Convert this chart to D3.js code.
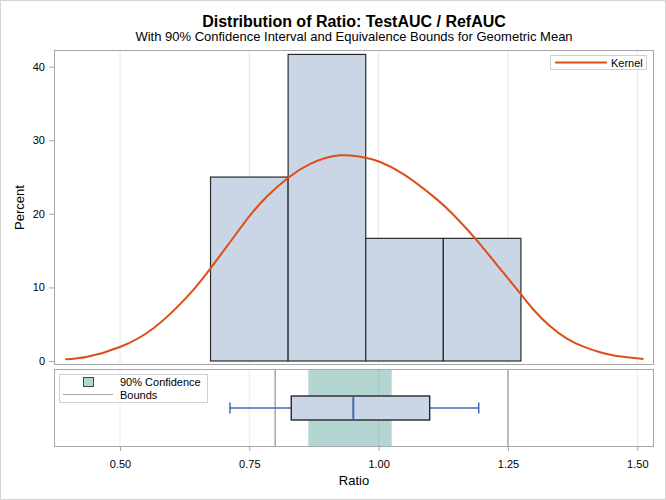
<!DOCTYPE html>
<html>
<head>
<meta charset="utf-8">
<script src="https://cdn.jsdelivr.net/npm/d3@7"></script>
<style>
  html, body { margin: 0; padding: 0; background: #fff; }
  svg { display: block; font-family: "Liberation Sans", Arial, sans-serif; }
</style>
</head>
<body>
<svg id="chart" width="666" height="500"></svg>
<script>
// ---------------- data ----------------
const titleText = "Distribution of Ratio: TestAUC / RefAUC";
const subtitleText = "With 90% Confidence Interval and Equivalence Bounds for Geometric Mean";

const binMid = [0.75, 0.90, 1.05, 1.20];
const binWidth = 0.15;
const binPercent = [25.0, 41.67, 16.67, 16.67];

const kernelX = [0.394, 0.437, 0.501, 0.566, 0.630, 0.675, 0.719, 0.751, 0.784, 0.824, 0.867, 0.925, 0.977, 1.003, 1.048, 1.112, 1.144, 1.186, 1.241, 1.273, 1.299, 1.331, 1.364, 1.396, 1.428, 1.460, 1.512];
const kernelY = [0.23, 0.58, 1.94, 4.53, 8.74, 12.6, 16.75, 19.75, 22.35, 24.85, 26.75, 27.95, 27.6, 27.05, 25.4, 22.0, 19.9, 16.7, 12.0, 9.25, 7.0, 4.75, 3.05, 1.95, 1.18, 0.68, 0.27];

const boxStats = { whiskerLow: 0.7126, q1: 0.831, median: 0.951, q3: 1.0987, whiskerHigh: 1.1934 };
const confInterval = [0.864, 1.0252];
const equivBounds = [0.80, 1.25];

const xTicks = [0.50, 0.75, 1.00, 1.25, 1.50];
const yTicks = [0, 10, 20, 30, 40];

// ---------------- layout ----------------
const svg = d3.select("#chart");
const plotL = 54, plotR = 654;
const upTop = 50, upBot = 365;
const loTop = 369, loBot = 447;

const x = d3.scaleLinear().domain([0.5, 1.5]).range([120, 637.3]);
const y = d3.scaleLinear().domain([0, 40]).range([361, 66.7]);

const cFrame = "#A3A7AB", cGrid = "#E6E6E6", cBar = "#CAD5E5", cKernel = "#DD4F16";
const cBand = "#B3D6D2", cBound = "#A8A8A8", cBlue = "#4169B8";

// outer border
svg.append("rect").attr("x", 0.5).attr("y", 0.5).attr("width", 665).attr("height", 499)
  .attr("fill", "#fff").attr("stroke", "#D4D4D4");

// titles
svg.append("text").attr("x", 354).attr("y", 26.5).attr("text-anchor", "middle")
  .attr("font-size", 16).attr("font-weight", "bold").attr("fill", "#000").text(titleText);
svg.append("text").attr("x", 354).attr("y", 41).attr("text-anchor", "middle")
  .attr("font-size", 13).attr("fill", "#000").text(subtitleText);

// ---------- upper panel ----------
const up = svg.append("g");
up.selectAll("line.grid").data(xTicks).join("line")
  .attr("x1", d => x(d)).attr("x2", d => x(d)).attr("y1", upTop).attr("y2", upBot)
  .attr("stroke", cGrid).attr("stroke-width", 1);

up.selectAll("rect.bar").data(binMid).join("rect")
  .attr("x", d => x(d - binWidth / 2)).attr("width", d => x(d + binWidth / 2) - x(d - binWidth / 2))
  .attr("y", (d, i) => y(binPercent[i])).attr("height", (d, i) => y(0) - y(binPercent[i]))
  .attr("fill", cBar).attr("stroke", "#2a2a2a").attr("stroke-width", 1.2);

const kline = d3.line().x((d, i) => x(kernelX[i])).y((d, i) => y(kernelY[i])).curve(d3.curveNatural);
up.append("path").datum(kernelX).attr("d", kline).attr("fill", "none")
  .attr("stroke", cKernel).attr("stroke-width", 2);

up.append("rect").attr("x", plotL + 0.5).attr("y", upTop + 0.5).attr("width", plotR - plotL - 1)
  .attr("height", upBot - upTop - 1).attr("fill", "none").attr("stroke", cFrame);

// kernel legend
const kl = svg.append("g");
kl.append("rect").attr("x", 550.5).attr("y", 55.5).attr("width", 96).attr("height", 14)
  .attr("fill", "#fff").attr("stroke", "#D0D0D0");
kl.append("line").attr("x1", 555).attr("x2", 607).attr("y1", 62.5).attr("y2", 62.5)
  .attr("stroke", cKernel).attr("stroke-width", 2);
kl.append("text").attr("x", 611).attr("y", 66.5).attr("font-size", 11).text("Kernel");

// y axis
const yAxis = d3.axisLeft(y).tickValues(yTicks).tickFormat(d3.format("d")).tickSize(5).tickPadding(4);
const ya = svg.append("g").attr("transform", `translate(${plotL},0)`).call(yAxis);
ya.select(".domain").remove();
ya.selectAll("line").attr("stroke", cFrame);
ya.selectAll("text").attr("font-size", 11).attr("fill", "#000")
  .attr("font-family", "Liberation Sans, Arial, sans-serif");

svg.append("text").attr("transform", `translate(24,${(upTop + upBot) / 2}) rotate(-90)`)
  .attr("text-anchor", "middle").attr("font-size", 13).text("Percent");

// ---------- lower panel ----------
const lo = svg.append("g");
lo.append("rect").attr("x", x(confInterval[0])).attr("width", x(confInterval[1]) - x(confInterval[0]))
  .attr("y", loTop).attr("height", loBot - loTop).attr("fill", cBand);
lo.selectAll("line.grid").data(xTicks).join("line")
  .attr("x1", d => x(d)).attr("x2", d => x(d)).attr("y1", loTop).attr("y2", loBot)
  .attr("stroke", "#000").attr("stroke-opacity", 0.09).attr("stroke-width", 1);
lo.selectAll("line.bound").data(equivBounds).join("line")
  .attr("x1", d => x(d)).attr("x2", d => x(d)).attr("y1", loTop).attr("y2", loBot)
  .attr("stroke", cBound).attr("stroke-width", 1.5);

// box plot
const bY = 408, bH = 24, capH = 11;
lo.append("line").attr("x1", x(boxStats.whiskerLow)).attr("x2", x(boxStats.q1))
  .attr("y1", bY).attr("y2", bY).attr("stroke", cBlue).attr("stroke-width", 1.5);
lo.append("line").attr("x1", x(boxStats.q3)).attr("x2", x(boxStats.whiskerHigh))
  .attr("y1", bY).attr("y2", bY).attr("stroke", cBlue).attr("stroke-width", 1.5);
[boxStats.whiskerLow, boxStats.whiskerHigh].forEach(v => {
  lo.append("line").attr("x1", x(v)).attr("x2", x(v)).attr("y1", bY - capH / 2).attr("y2", bY + capH / 2)
    .attr("stroke", cBlue).attr("stroke-width", 1.5);
});
lo.append("rect").attr("x", x(boxStats.q1)).attr("width", x(boxStats.q3) - x(boxStats.q1))
  .attr("y", bY - bH / 2).attr("height", bH).attr("fill", cBar).attr("stroke", "#1a1a1a").attr("stroke-width", 1.3);
lo.append("line").attr("x1", x(boxStats.median)).attr("x2", x(boxStats.median))
  .attr("y1", bY - bH / 2 + 1).attr("y2", bY + bH / 2 - 1).attr("stroke", cBlue).attr("stroke-width", 2);

lo.append("rect").attr("x", plotL + 0.5).attr("y", loTop + 0.5).attr("width", plotR - plotL - 1)
  .attr("height", loBot - loTop - 1).attr("fill", "none").attr("stroke", cFrame);

// lower legend
const ll = svg.append("g");
ll.append("rect").attr("x", 59.5).attr("y", 374.5).attr("width", 148).attr("height", 28)
  .attr("fill", "#fff").attr("stroke", "#D0D0D0");
ll.append("rect").attr("x", 83.5).attr("y", 377.5).attr("width", 10).attr("height", 9)
  .attr("fill", cBand).attr("stroke", "#444");
ll.append("line").attr("x1", 63).attr("x2", 113).attr("y1", 394.5).attr("y2", 394.5)
  .attr("stroke", cBound).attr("stroke-width", 1.2);
ll.append("text").attr("x", 120).attr("y", 386).attr("font-size", 11).text("90% Confidence");
ll.append("text").attr("x", 120).attr("y", 399).attr("font-size", 11).text("Bounds");

// x axis
const xAxis = d3.axisBottom(x).tickValues(xTicks).tickFormat(d3.format(".2f")).tickSize(4).tickPadding(9);
const xa = svg.append("g").attr("transform", `translate(0,${loBot})`).call(xAxis);
xa.select(".domain").remove();
xa.selectAll("line").attr("stroke", cFrame);
xa.selectAll("text").attr("font-size", 11).attr("fill", "#000")
  .attr("font-family", "Liberation Sans, Arial, sans-serif");

svg.append("text").attr("x", (plotL + plotR) / 2).attr("y", 485).attr("text-anchor", "middle")
  .attr("font-size", 13).text("Ratio");
</script>
</body>
</html>
